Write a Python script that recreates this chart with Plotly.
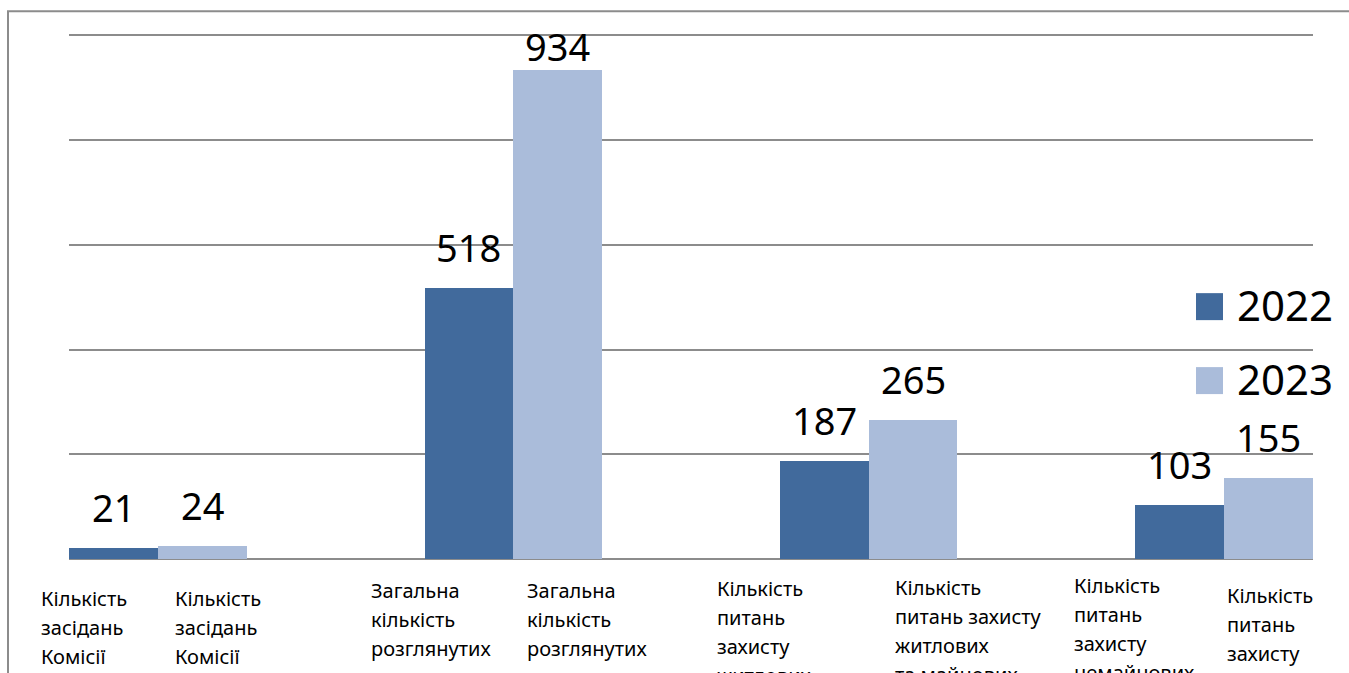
import plotly.graph_objects as go

# ---------------- data ----------------
categories = [
    "Кількість засідань Комісії",
    "Загальна кількість розглянутих питань",
    "Кількість питань захисту житлових та майнових прав",
    "Кількість питань захисту немайнових прав",
]
series_names = ["2022", "2023"]
values_2022 = [21, 518, 187, 103]
values_2023 = [24, 934, 265, 155]

# per-bar labels under the axis (lines as wrapped in the original)
labels_2022 = [
    ["Кількість", "засідань", "Комісії"],
    ["Загальна", "кількість", "розглянутих", "питань"],
    ["Кількість", "питань", "захисту", "житлових"],
    ["Кількість", "питань", "захисту", "немайнових"],
]
labels_2023 = [
    ["Кількість", "засідань", "Комісії"],
    ["Загальна", "кількість", "розглянутих", "питань"],
    ["Кількість", "питань захисту", "житлових", "та майнових"],
    ["Кількість", "питань", "захисту", "немайнових"],
]

# ---------------- style ----------------
C2022 = "#416a9c"
C2023 = "#aabcda"
GRID = "#8c8c8c"
FONT = "Noto Sans"
W, H = 1349, 673
SCALE = 0.524          # px per value unit
Y_MAX = 1000
Y_TOP = 1012
ML, MR, MB = 69, 36, 114
PLOT_H = SCALE * Y_TOP
MT = H - MB - PLOT_H
PLOT_W = W - ML - MR
X_RANGE = [-0.2507, 3.2507]
BAR_OFF = 0.125

# label offsets (pixels) relative to each bar centre: (xshift, first-baseline y px)
lab_style_2022 = [(-75, 605), (-100, 597), (-109, 595), (-108, 592)]
lab_style_2023 = [(-29, 605), (-33, 597), (-20, 594), (-43, 602)]
LINE_STEP = 28.8

x_idx = list(range(len(categories)))

fig = go.Figure()
fig.add_trace(go.Bar(x=[i - BAR_OFF for i in x_idx], y=values_2022, name=series_names[0],
                     width=0.25, marker=dict(color=C2022, line=dict(width=0)),
                     hovertext=categories, showlegend=False))
fig.add_trace(go.Bar(x=[i + BAR_OFF for i in x_idx], y=values_2023, name=series_names[1],
                     width=0.25, marker=dict(color=C2023, line=dict(width=0)),
                     hovertext=categories, showlegend=False))

annotations = []


def px_to_paper_y(py):
    return (H - MB - py) / PLOT_H


def px_to_paper_x(px):
    return (px - ML) / PLOT_W


# value labels
for vals, off in ((values_2022, -BAR_OFF), (values_2023, BAR_OFF)):
    for i, v in zip(x_idx, vals):
        bar_top_px = (H - MB) - v * SCALE
        shift = min(41, bar_top_px - 46)
        annotations.append(dict(x=i + off, y=v, xref="x", yref="y", text=str(v),
                                showarrow=False, yanchor="middle", xanchor="center",
                                yshift=shift, font=dict(family=FONT, size=38, color="#000000")))

# category labels under each bar
for labs, styles, off in ((labels_2022, lab_style_2022, -BAR_OFF), (labels_2023, lab_style_2023, BAR_OFF)):
    for i, lines, (xs, base) in zip(x_idx, labs, styles):
        for k, line in enumerate(lines):
            by = base + k * LINE_STEP
            annotations.append(dict(x=i + off, y=px_to_paper_y(by - 6), xref="x", yref="paper",
                                    text=line, showarrow=False, xanchor="left", yanchor="middle",
                                    xshift=xs, font=dict(family=FONT, size=20, color="#000000")))

# legend (manual, large squares)
shapes = []
for name, col, cy in ((series_names[0], C2022, 306.5), (series_names[1], C2023, 380.5)):
    shapes.append(dict(type="rect", xref="paper", yref="paper",
                       x0=px_to_paper_x(1196), x1=px_to_paper_x(1223),
                       y0=px_to_paper_y(cy + 13.5), y1=px_to_paper_y(cy - 13.5),
                       fillcolor=col, line=dict(width=0)))
    annotations.append(dict(x=px_to_paper_x(1235), y=px_to_paper_y(cy - 2), xref="paper", yref="paper",
                            text=name, showarrow=False, xanchor="left", yanchor="middle",
                            font=dict(family=FONT, size=42, color="#000000")))

# outer chart border (cropped on right/bottom)
shapes.append(dict(type="rect", xref="paper", yref="paper",
                   x0=px_to_paper_x(8), x1=px_to_paper_x(W + 40),
                   y0=px_to_paper_y(H + 40), y1=px_to_paper_y(11),
                   line=dict(color=GRID, width=2), fillcolor="rgba(0,0,0,0)", layer="below"))

fig.update_layout(
    width=W, height=H,
    margin=dict(l=ML, r=MR, t=MT, b=MB, pad=0),
    paper_bgcolor="white", plot_bgcolor="white",
    bargap=0, barmode="overlay",
    showlegend=False,
    annotations=annotations,
    shapes=shapes,
    font=dict(family=FONT),
    xaxis=dict(range=X_RANGE, showticklabels=False, showgrid=False, zeroline=False,
               showline=False, ticks=""),
    yaxis=dict(range=[0, Y_TOP], tickmode="linear", tick0=0, dtick=200, showticklabels=False,
               showgrid=True, gridcolor=GRID, gridwidth=2, zeroline=True, zerolinecolor=GRID,
               zerolinewidth=2, showline=False, ticks=""),
)

fig.write_html("out.html", config={"displayModeBar": False},
               post_script="document.body.style.margin='0';document.body.style.overflow='hidden';")
